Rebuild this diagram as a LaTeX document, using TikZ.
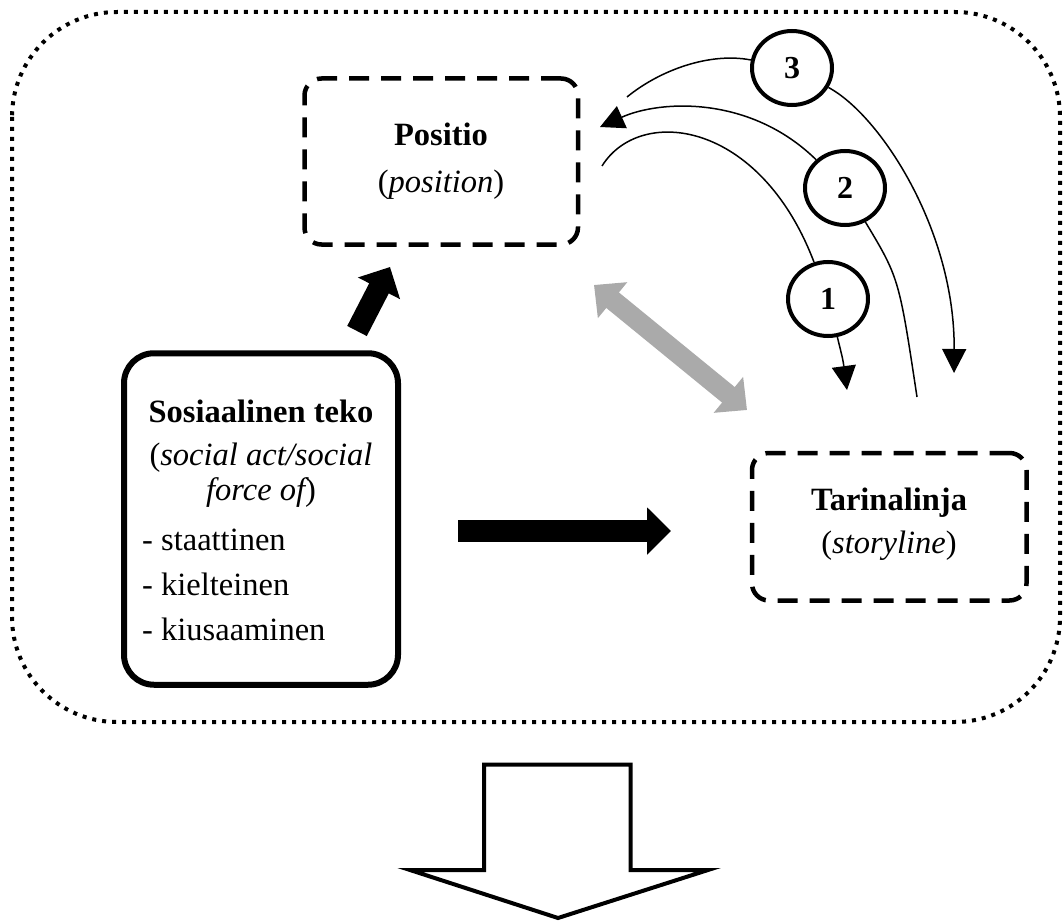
\documentclass[tikz,border=0pt]{standalone}
\usepackage{fontspec}
\setmainfont{Liberation Serif}
\usetikzlibrary{arrows.meta,shapes.geometric}
\begin{document}
\begin{tikzpicture}[x=1pt,y=-1pt,
  outerbox/.style={draw,line width=4pt,dash pattern=on 4pt off 6pt,rounded corners=105pt},
  dbox/.style={draw,line width=4.5pt,dash pattern=on 20pt off 12pt,rounded corners=17pt,inner sep=0pt},
  sbox/.style={draw,line width=6pt,rounded corners=30pt,inner sep=0pt},
  txt/.style={font=\fontsize{32.5}{38}\selectfont,anchor=base,inner sep=0pt},
  btxt/.style={txt,font=\fontsize{32.5}{38}\selectfont\bfseries},
  num/.style={draw,ellipse,line width=4pt,minimum width=80pt,minimum height=74pt,inner sep=0pt,fill=white,font=\fontsize{32}{36}\selectfont\bfseries},
  blk/.style={line width=22pt,-{Triangle[length=24pt,width=46pt]}},
  gry/.style={line width=20pt,draw={rgb,255:red,170;green,170;blue,170},{Triangle[length=24pt,width=45pt]}-{Triangle[length=24pt,width=45pt]}},
  thinline/.style={line width=1.5pt},
  tipend/.style={-{Triangle[length=24pt,width=24pt]}}
]
\useasboundingbox (0,0) rectangle (1063,923);
\fill[white] (0,0) rectangle (1063,923);

% outer dotted frame
\draw[outerbox] (12,12) rectangle (1060,722);

% boxes
\node[dbox,minimum width=273.5pt,minimum height=166pt] (pos) at (441.25,161.5) {};
\node[sbox,minimum width=274pt,minimum height=331.5pt] (soc) at (261,519) {};
\node[dbox,minimum width=274.5pt,minimum height=147.5pt] (tar) at (889.25,526.75) {};

% texts
\node[btxt] (posT) at (441,146) {Positio};
\node[txt] (posS) at (441,193) {({\itshape position})};
\node[btxt] (socT) at (261,422) {Sosiaalinen teko};
\node[txt] (socS1) at (261,465) {({\itshape social act/social}};
\node[txt] (socS2) at (261,500) {{\itshape force of})};
\node[txt,anchor=base west] (l1) at (142,550) {- staattinen};
\node[txt,anchor=base west] (l2) at (142,595) {- kielteinen};
\node[txt,anchor=base west] (l3) at (142,640) {- kiusaaminen};
\node[btxt] (tarT) at (889,510) {Tarinalinja};
\node[txt] (tarS) at (889,553) {({\itshape storyline})};

% numbered circles
\node[num] (c3) at (792,68) {3};
\node[num] (c2) at (845,188) {2};
\node[num] (c1) at (828,299) {1};

% curve endpoints
\coordinate (s1) at (602,166);
\coordinate (e1) at (847,390);
\coordinate (e2) at (600,127);
\coordinate (s2) at (917,397);
\coordinate (s3) at (627,97);
\coordinate (e3) at (954,373);

% curve 1
\draw[thinline] (s1) .. controls (640,105) and (760,120) .. (c1);
\draw[thinline,tipend] (c1) .. controls (843,360) .. (e1);
% curve 2
\draw[thinline] (s2) .. controls (899,278) .. (c2);
\draw[thinline,tipend] (c2) .. controls (750,95) and (660,100) .. (e2);
% curve 3
\draw[thinline] (s3) .. controls (660,70) and (710,52) .. (c3);
\draw[thinline,tipend] (c3) .. controls (880,115) and (955,230) .. (e3);

% thick arrows
\coordinate (d1) at (357,331);
\coordinate (d2) at (390,267);
\draw[blk] (d1) -- (d2);
\coordinate (h1) at (458,531);
\coordinate (h2) at (671,531);
\draw[blk] (h1) -- (h2);
\coordinate (g1) at (594,285);
\coordinate (g2) at (747,410);
\draw[gry] (g1) -- (g2);

% big hollow arrow
\draw[line width=4pt,miter limit=10] (484,764.5) -- (630.5,764.5) -- (630.5,870) -- (708,870) -- (558,918) -- (410,870) -- (484,870) -- cycle;
\end{tikzpicture}
\end{document}
